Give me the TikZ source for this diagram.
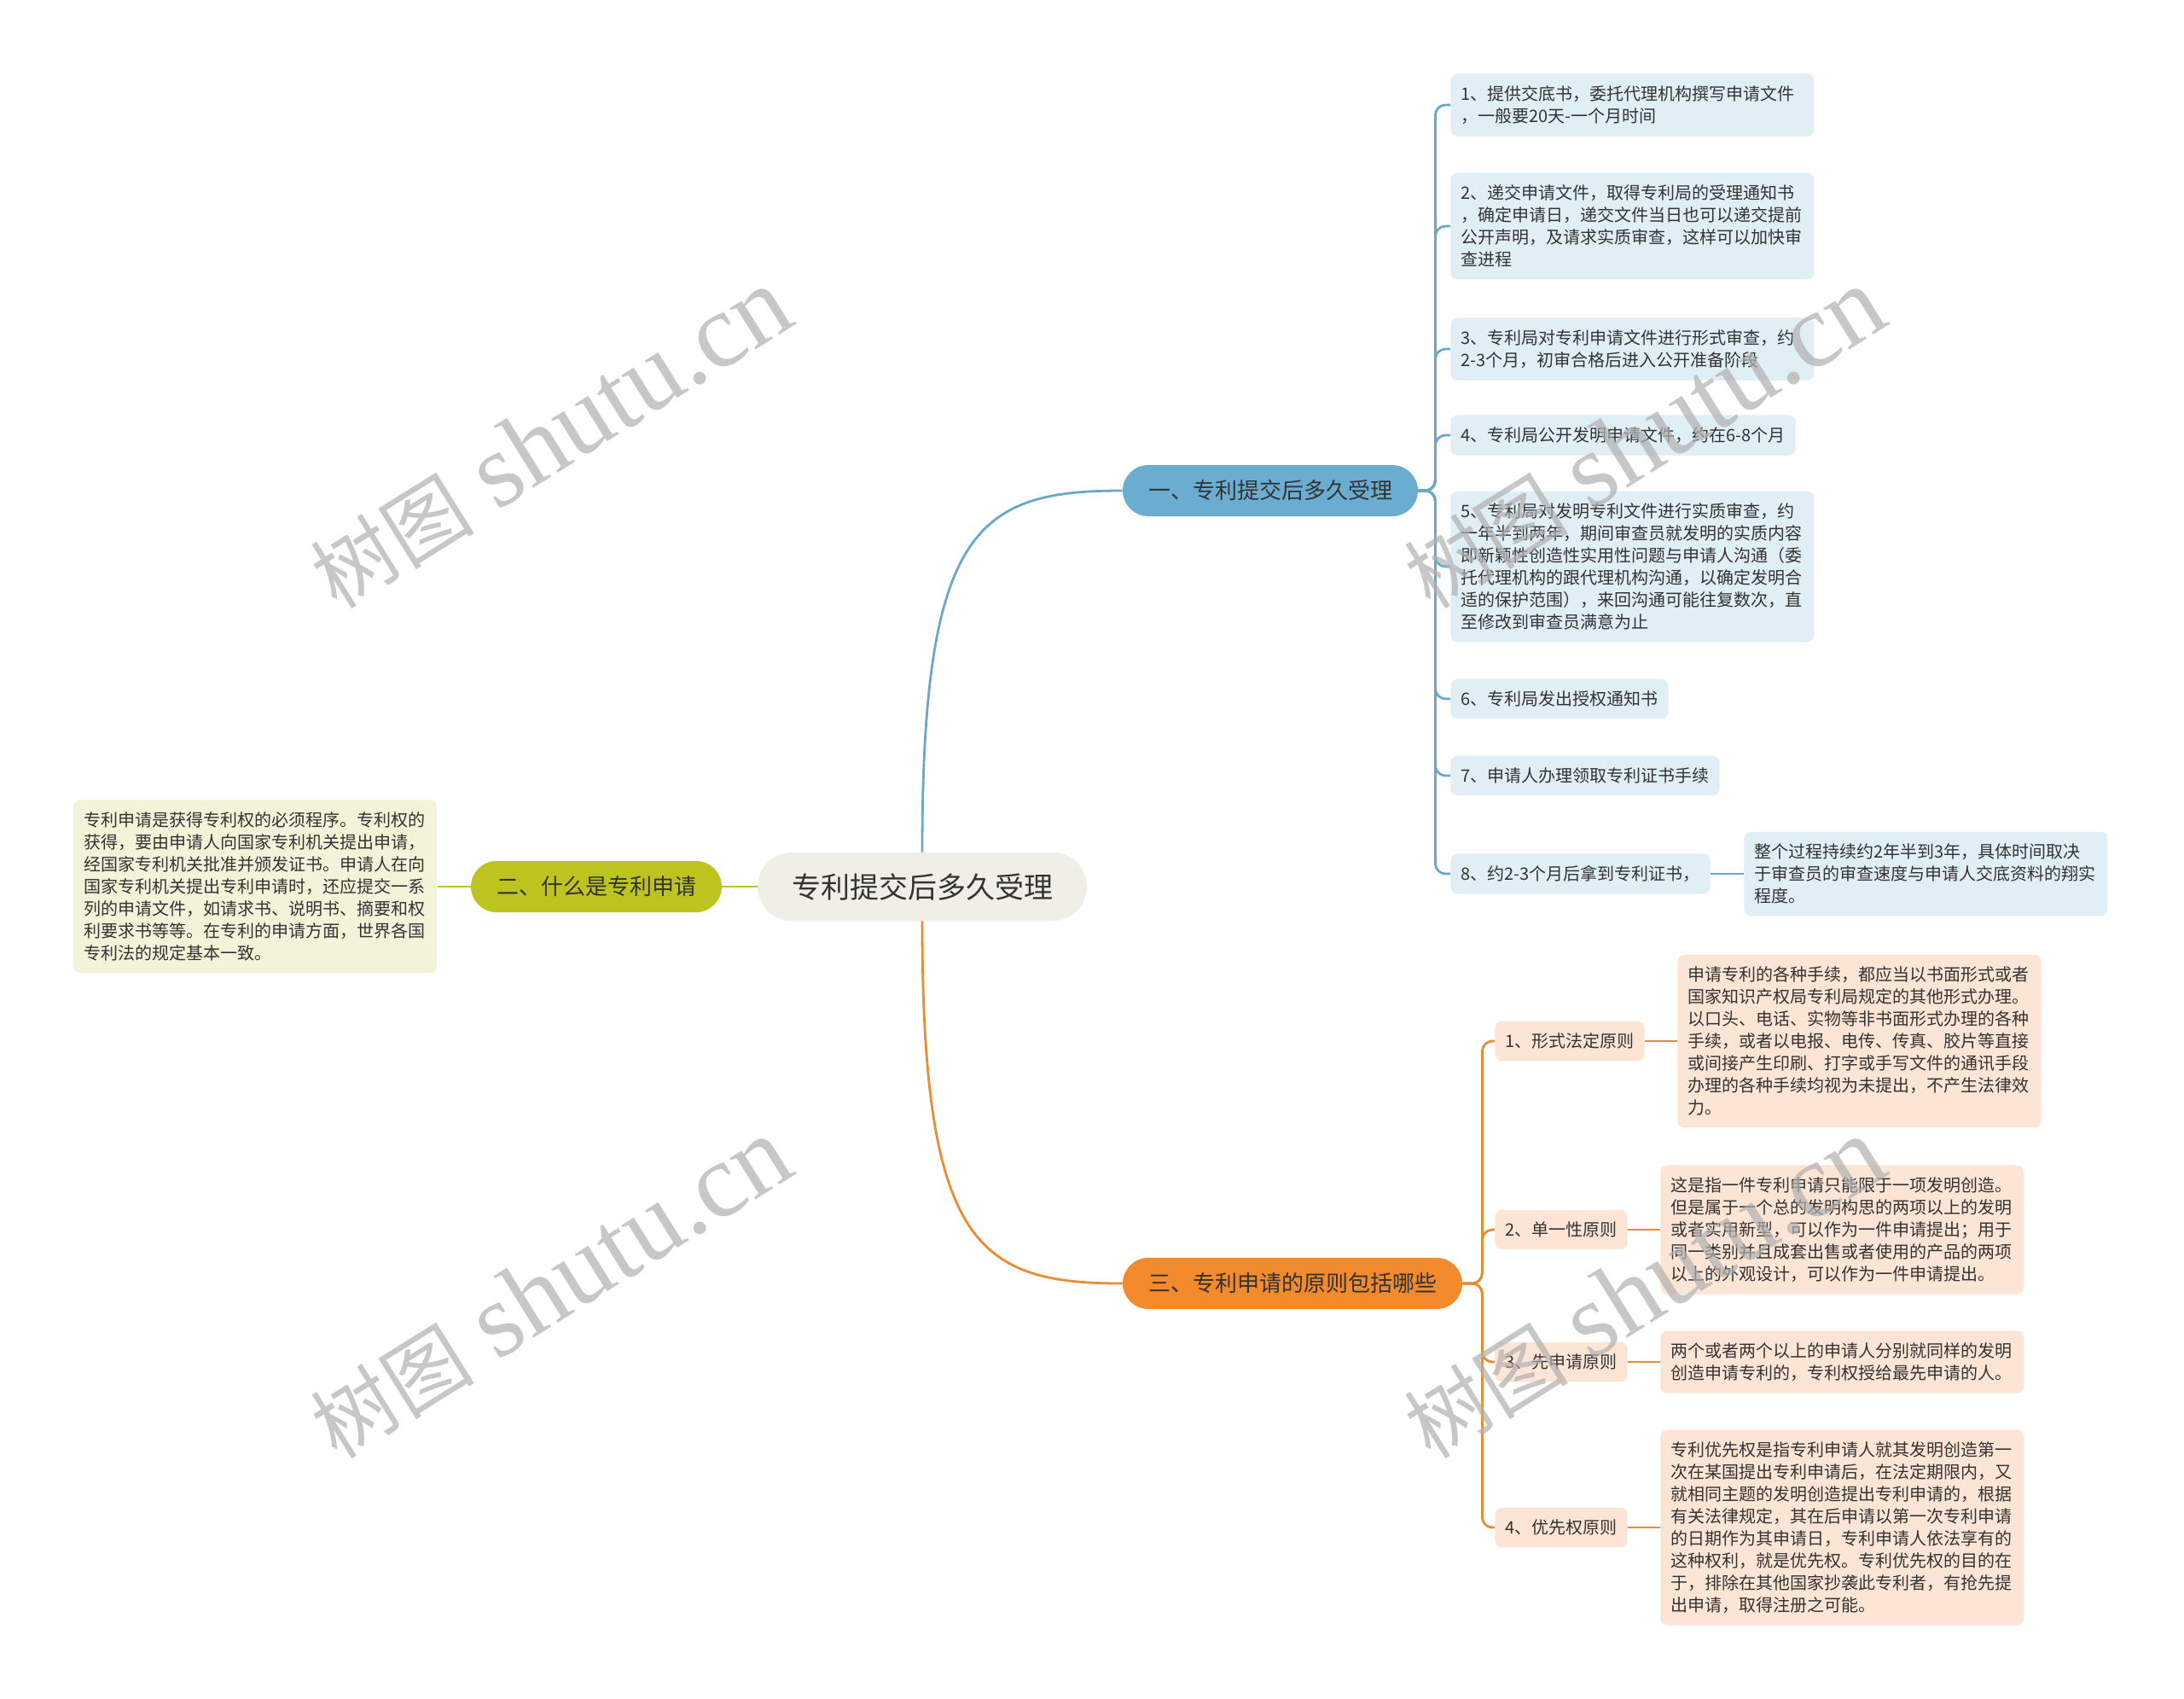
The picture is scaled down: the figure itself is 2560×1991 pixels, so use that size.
\documentclass[tikz,border=0pt]{standalone}
\usepackage{fontspec}
\setmainfont{Noto Sans CJK SC}
\newfontfamily\wmfont{Liberation Serif}
\usepackage{xcolor}
\usepackage{tikz}
\usetikzlibrary{positioning}
\definecolor{inkc}{HTML}{333333}
\definecolor{rootbg}{HTML}{EFEFE8}
\definecolor{bluec}{HTML}{6BADD1}
\definecolor{bluel}{HTML}{6AA7C9}
\definecolor{bluebg}{HTML}{E0EEF6}
\definecolor{olivec}{HTML}{BDC41F}
\definecolor{olivel}{HTML}{BFC22C}
\definecolor{olivebg}{HTML}{F2F3D8}
\definecolor{orangec}{HTML}{F38A2C}
\definecolor{orangel}{HTML}{E98D35}
\definecolor{orangebg}{HTML}{FCE5D4}
\definecolor{wmc}{HTML}{B0B0B0}
\tikzset{
  rootbox/.style={fill=rootbg,rounded corners=20pt,minimum height=40pt,inner xsep=20pt,font=\fontsize{17}{20}\selectfont,text=inkc},
  branch/.style={rounded corners=15pt,minimum height=30pt,inner xsep=15pt,font=\fontsize{13}{16}\selectfont,text=inkc},
  leaf/.style={rounded corners=4pt,inner xsep=6pt,inner ysep=7pt,align=left,font=\fontsize{10}{13}\selectfont,text=inkc},
  leafw/.style={text width=201pt},
  bleaf/.style={leaf,fill=bluebg},
  oleaf/.style={leaf,fill=orangebg},
  bl/.style={bluel,line width=1.4pt},
  gl/.style={olivel,line width=1.4pt},
  orl/.style={orangel,line width=1.4pt},
  wm/.style={wmc,opacity=0.7,rotate=32}
}
\begin{document}
\begin{tikzpicture}[x=0.5pt,y=-0.5pt]
\useasboundingbox[fill=white] (0,0) rectangle (2560,1991);
\node[rootbox] (root) at (1081,1039) {专利提交后多久受理};
\node[branch,fill=bluec] (b1) at (1489,575) {一、专利提交后多久受理};
\node[branch,fill=olivec] (b2) at (699,1039) {二、什么是专利申请};
\node[branch,fill=orangec] (b3) at (1515,1504) {三、专利申请的原则包括哪些};
\node[leaf,leafw,fill=olivebg,left=19.5pt of b2] (note) {专利申请是获得专利权的必须程序。专利权的\\获得，要由申请人向国家专利机关提出申请，\\经国家专利机关批准并颁发证书。申请人在向\\国家专利机关提出专利申请时，还应提交一系\\列的申请文件，如请求书、说明书、摘要和权\\利要求书等等。在专利的申请方面，世界各国\\专利法的规定基本一致。};
\node[bleaf,leafw,anchor=west] (p1) at (1700,123) {1、提供交底书，委托代理机构撰写申请文件\\，一般要20天-一个月时间};
\node[bleaf,leafw,anchor=west] (p2) at (1700,265) {2、递交申请文件，取得专利局的受理通知书\\，确定申请日，递交文件当日也可以递交提前\\公开声明，及请求实质审查，这样可以加快审\\查进程};
\node[bleaf,leafw,anchor=west] (p3) at (1700,409) {3、专利局对专利申请文件进行形式审查，约\\2-3个月，初审合格后进入公开准备阶段};
\node[bleaf,anchor=west] (p4) at (1700,510) {4、专利局公开发明申请文件，约在6-8个月};
\node[bleaf,leafw,anchor=west] (p5) at (1700,664) {5、专利局对发明专利文件进行实质审查，约\\一年半到两年，期间审查员就发明的实质内容\\即新颖性创造性实用性问题与申请人沟通（委\\托代理机构的跟代理机构沟通，以确定发明合\\适的保护范围），来回沟通可能往复数次，直\\至修改到审查员满意为止};
\node[bleaf,anchor=west] (p6) at (1700,819) {6、专利局发出授权通知书};
\node[bleaf,anchor=west] (p7) at (1700,909) {7、申请人办理领取专利证书手续};
\node[bleaf,anchor=west] (p8) at (1700,1024) {8、约2-3个月后拿到专利证书，};
\node[bleaf,leafw,right=19.5pt of p8] (p8x) {整个过程持续约2年半到3年，具体时间取决\\于审查员的审查速度与申请人交底资料的翔实\\程度。};
\node[oleaf,anchor=west] (s1) at (1752,1220) {1、形式法定原则};
\node[oleaf,anchor=west] (s2) at (1752,1441) {2、单一性原则};
\node[oleaf,anchor=west] (s3) at (1752,1596) {3、先申请原则};
\node[oleaf,anchor=west] (s4) at (1752,1790) {4、优先权原则};
\node[oleaf,leafw,right=19pt of s1] (d1) {申请专利的各种手续，都应当以书面形式或者\\国家知识产权局专利局规定的其他形式办理。\\以口头、电话、实物等非书面形式办理的各种\\手续，或者以电报、电传、传真、胶片等直接\\或间接产生印刷、打字或手写文件的通讯手段\\办理的各种手续均视为未提出，不产生法律效\\力。};
\node[oleaf,leafw,right=19pt of s2] (d2) {这是指一件专利申请只能限于一项发明创造。\\但是属于一个总的发明构思的两项以上的发明\\或者实用新型，可以作为一件申请提出；用于\\同一类别并且成套出售或者使用的产品的两项\\以上的外观设计，可以作为一件申请提出。};
\node[oleaf,leafw,right=19pt of s3] (d3) {两个或者两个以上的申请人分别就同样的发明\\创造申请专利的，专利权授给最先申请的人。};
\node[oleaf,leafw,right=19pt of s4] (d4) {专利优先权是指专利申请人就其发明创造第一\\次在某国提出专利申请后，在法定期限内，又\\就相同主题的发明创造提出专利申请的，根据\\有关法律规定，其在后申请以第一次专利申请\\的日期作为其申请日，专利申请人依法享有的\\这种权利，就是优先权。专利优先权的目的在\\于，排除在其他国家抄袭此专利者，有抢先提\\出申请，取得注册之可能。};
% connectors
\draw[bl] (root.north) .. controls +(0,-380) and +(-170,0) .. (b1.west);
\draw[orl] (root.south) .. controls +(0,380) and +(-170,0) .. (b3.west);
\draw[gl] (root.west) -- (b2.east);
\draw[gl] (b2.west) -- (note.east);
\foreach \i in {1,...,8}
  \draw[bl,rounded corners=6pt] (b1.east) -- ++(10pt,0) |- (p\i.west);
\draw[bl] (p8.east) -- (p8x.west);
\foreach \i in {1,...,4} {
  \draw[orl,rounded corners=6pt] (b3.east) -- ++(11.5pt,0) |- (s\i.west);
  \draw[orl] (s\i.east) -- (d\i.west);
}
% watermarks
\foreach \wx/\wy in {645/514,1927/514,645/1510,1927/1510}
  \node[wm] at (\wx,\wy) {{\fontsize{48}{48}\selectfont 树图}\hspace{14pt}{\fontsize{62}{62}\wmfont shutu.cn}};
\end{tikzpicture}
\end{document}
